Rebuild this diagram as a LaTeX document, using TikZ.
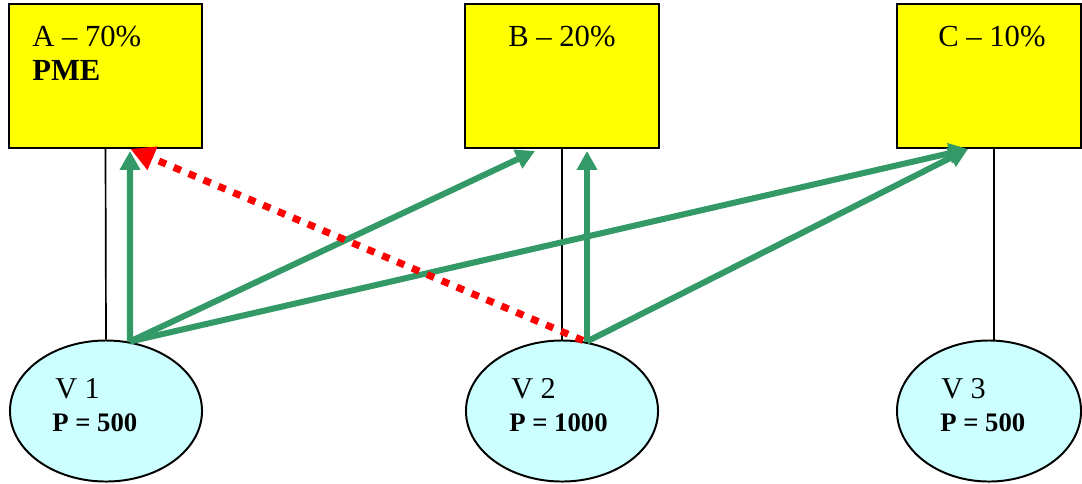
\documentclass[tikz,border=0pt]{standalone}
\usepackage{fontspec}
\setmainfont{Liberation Serif}
\usetikzlibrary{arrows.meta, positioning, calc, shapes.geometric}
\definecolor{shareyellow}{RGB}{255, 255, 0}
\definecolor{vcyan}{RGB}{204, 255, 255}
\definecolor{flowgreen}{RGB}{51, 153, 102}
\definecolor{flowred}{RGB}{255, 0, 0}

\begin{document}
\begin{tikzpicture}[x=0.025cm, y=-0.025cm,
  sharebox/.style={draw, line width=1.4pt, fill=shareyellow, minimum width=4.825cm,
    minimum height=3.6cm, inner sep=0pt},
  vnode/.style={ellipse, draw, line width=1.4pt, fill=vcyan, minimum width=4.8cm,
    minimum height=3.525cm, inner sep=0pt},
  sharetxt/.style={anchor=base west, inner sep=0pt, font=\fontsize{21.8}{24}\selectfont},
  vtxt/.style={anchor=base west, inner sep=0pt, font=\fontsize{21.5}{24}\selectfont},
  ptxt/.style={anchor=base west, inner sep=0pt, font=\fontsize{19}{22}\selectfont\bfseries},
  link/.style={line width=1.2pt},
  flow/.style={flowgreen, line width=4.3pt, -{Triangle[length=13.5pt, width=14pt]}},
  backflow/.style={flowred, line width=5pt, dash pattern=on 5.5pt off 6pt,
    -{Triangle[length=17pt, width=17pt]}}]

  \useasboundingbox (0,0) rectangle (1082,483);

  % --- shares ---
  \node[sharebox] (boxA) at (105.5,76) {};
  \node[sharebox] (boxB) at (562,76) {};
  \node[sharebox, minimum width=4.6cm] (boxC) at (989,76) {};
  \node[sharetxt] (txtA) at (32,46) {A -- 70\%};
  \node[sharetxt, font=\fontsize{21.8}{24}\selectfont\bfseries] (txtPME) at (32,80) {PME};
  \node[sharetxt] (txtB) at (508,46) {B -- 20\%};
  \node[sharetxt] (txtC) at (938,46) {C -- 10\%};

  % --- V nodes ---
  \node[vnode] (V1) at (106,411) {};
  \node[vnode] (V2) at (562,411) {};
  \node[vnode, minimum width=4.6cm] (V3) at (989,411) {};
  \node[vtxt] (lblV1) at (55,398) {V 1};
  \node[ptxt] (lblP1) at (52,431) {P = 500};
  \node[vtxt] (lblV2) at (511,398) {V 2};
  \node[ptxt] (lblP2) at (509,431) {P = 1000};
  \node[vtxt] (lblV3) at (941,398) {V 3};
  \node[ptxt] (lblP3) at (940,431) {P = 500};

  % --- plain links ---
  \draw[link] (boxA.south) -- (V1.north);
  \draw[link] (boxB.south) -- (V2.north);
  \draw[link] ($(boxC.south)+(5,0)$) -- ($(V3.north)+(5,0)$);

  % --- flows ---
  \coordinate (v1out) at ($(V1.north)+(24,2)$);
  \coordinate (v2out) at ($(V2.north)+(25,2)$);
  \coordinate (cin) at ($(boxC.south)+(-21,0)$);
  \draw[flow] (v1out) -- ($(boxA.south)+(24.5,2)$);
  \draw[flow] (v1out) -- ($(boxB.south)+(-27,2)$);
  \draw[flow] (v1out) -- (cin);
  \draw[flow] (v2out) -- ($(boxB.south)+(25,2)$);
  \draw[flow] (v2out) -- (cin);
  \draw[backflow] ($(V2.north)+(21,1)$) -- ($(boxA.south)+(25,0)$);

\end{tikzpicture}
\end{document}
